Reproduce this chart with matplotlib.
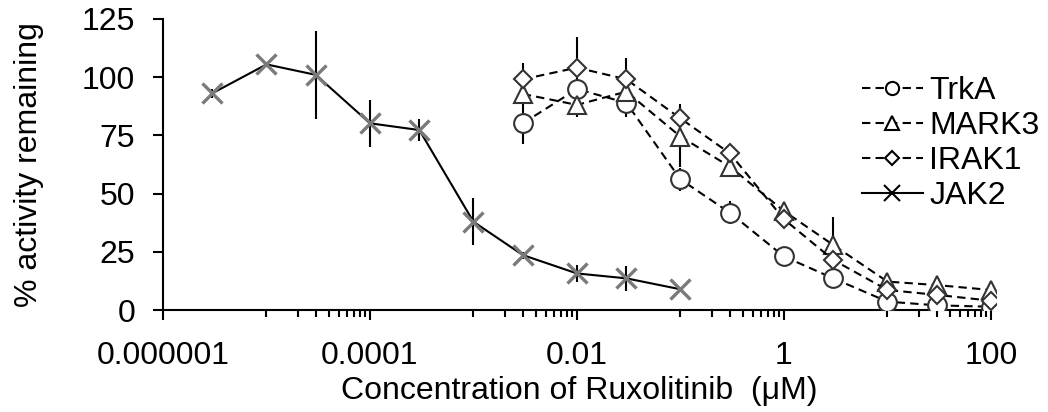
import numpy as np
import matplotlib
matplotlib.use("Agg")
import matplotlib.pyplot as plt
from matplotlib.lines import Line2D
from matplotlib.ticker import FixedLocator, NullFormatter

plt.rcParams['font.family'] = ['Liberation Sans', 'DejaVu Sans']

# concentrations (uM)
conc_jak2 = [3e-6, 1e-5, 3e-5, 1e-4, 3e-4, 1e-3, 3e-3, 1e-2, 3e-2, 1e-1]
conc_kin = [3e-3, 1e-2, 3e-2, 1e-1, 3e-1, 1, 3, 10, 30, 100]

# % activity remaining
jak2 = [93.1, 105.5, 101.0, 80.2, 77.3, 37.9, 23.6, 15.7, 13.6, 8.9]
jak2_err = [2, 1, 19, 10, 4.7, 10, 1.5, 3.6, 5.4, 1]
trka = [80.2, 94.9, 89.0, 56.1, 41.8, 23.0, 13.6, 3.6, 2.0, 1.4]
trka_err = [9, 3, 6, 5, 5, 2, 2, 1, 1, 1]
mark3 = [92.8, 88.1, 93.8, 74.5, 61.6, 42.5, 27.9, 12.2, 10.7, 8.6]
mark3_err = [4, 5, 3, 13, 3, 3, 12, 2, 1, 1]
irak1 = [99.1, 104.1, 99.1, 82.3, 67.3, 39.0, 21.5, 8.6, 6.5, 4.0]
irak1_err = [7, 13, 9, 6, 3, 2, 2, 1, 1, 1]

major_ticks = [1e-6, 1e-4, 1e-2, 1, 100]
major_labels = ["0.000001", "0.0001", "0.01", "1", "100"]

fs = 23
fig = plt.figure(figsize=(10.48, 4.12), dpi=100)
ax = fig.add_axes([163 / 1048, 1 - 310 / 412, (996 - 163) / 1048, (310 - 19) / 412])

dash = (4, 2.5)
mk_edge = '#333333'
series = [
    (trka, trka_err, 'o', 13.5),
    (mark3, mark3_err, '^', 13),
    (irak1, irak1_err, 'D', 9),
]
for vals, err, m, ms in series:
    ax.errorbar(conc_kin, vals, yerr=err, fmt='none', ecolor='black', elinewidth=1.5, capsize=0, zorder=2)
    ax.plot(conc_kin, vals, color='black', lw=1.5, dashes=dash, marker=m, ms=ms,
            mfc='white', mec=mk_edge, mew=1.5, zorder=3)

ax.errorbar(conc_jak2, jak2, yerr=jak2_err, fmt='none', ecolor='black', elinewidth=1.5, capsize=0, zorder=2)
ax.plot(conc_jak2, jak2, color='black', lw=1.5, zorder=3)
ax.plot(conc_jak2, jak2, ls='none', marker='x', ms=15, mec='#7a7a7a', mew=2.4, zorder=4)

ax.set_xscale('log')
ax.set_xlim(1e-6, 112)
ax.set_ylim(0, 125)
ax.xaxis.set_major_locator(FixedLocator(major_ticks))
ax.set_xticklabels(major_labels)
minor = [10.0 ** (2 * k + 1) * m for k in range(-3, 2) for m in range(1, 10)]
ax.xaxis.set_minor_locator(FixedLocator(minor))
ax.xaxis.set_minor_formatter(NullFormatter())
ax.set_yticks([0, 25, 50, 75, 100, 125])

for s in ['top', 'right']:
    ax.spines[s].set_visible(False)
for s in ['left', 'bottom']:
    ax.spines[s].set_linewidth(1.5)
ax.tick_params(axis='both', which='major', direction='out', length=7, width=1.5, labelsize=fs)
ax.tick_params(axis='x', which='minor', direction='out', length=5, width=1.5)
ax.tick_params(axis='y', pad=13)
ax.tick_params(axis='x', pad=15)

ax.set_xlabel("Concentration of Ruxolitinib  (\u03bcM)", fontsize=fs, labelpad=4)
ax.set_ylabel("% activity remaining", fontsize=fs, labelpad=27)

handles = [
    Line2D([], [], color='black', lw=1.5, dashes=dash, marker='o', ms=9.5, mfc='white', mec='black', mew=1.5),
    Line2D([], [], color='black', lw=1.5, dashes=dash, marker='^', ms=9.5, mfc='white', mec='black', mew=1.5),
    Line2D([], [], color='black', lw=1.5, dashes=dash, marker='D', ms=7, mfc='white', mec='black', mew=1.5),
    Line2D([], [], color='black', lw=1.5, marker='x', ms=12, mec='black', mew=1.5),
]
fig.legend(handles, ["TrkA", "MARK3", "IRAK1", "JAK2"], loc='upper left',
           bbox_to_anchor=(862 / 1048, 1 - 76 / 412), frameon=False, fontsize=fs,
           borderpad=0, borderaxespad=0, handlelength=1.9, handletextpad=0.2, labelspacing=0.16)

fig.savefig("out.png", dpi=100)
